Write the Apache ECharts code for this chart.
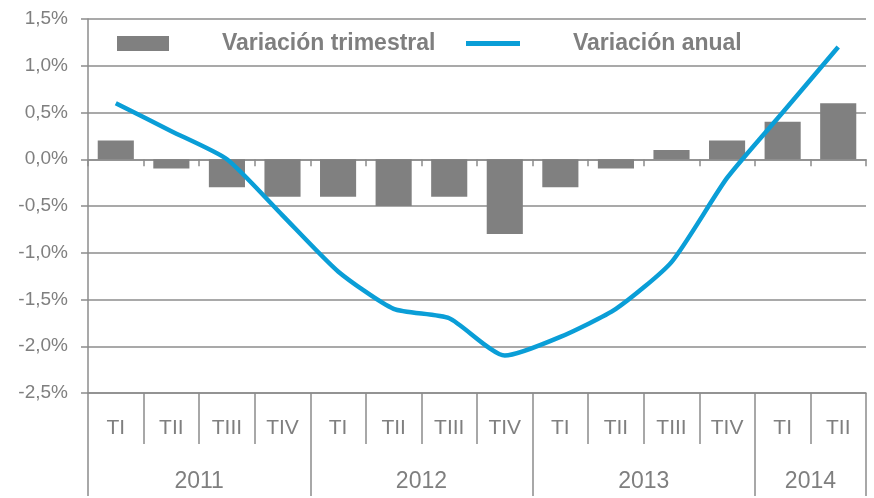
<!DOCTYPE html>
<html>
<head>
<meta charset="utf-8">
<script src="https://cdn.jsdelivr.net/npm/echarts@6/dist/echarts.min.js"></script>
<style>
html,body{margin:0;padding:0;background:#fff;}
#c{width:874px;height:498px;}
</style>
</head>
<body>
<div id="c"></div>
<script>
var quarters = ['TI','TII','TIII','TIV','TI','TII','TIII','TIV','TI','TII','TIII','TIV','TI','TII'];
var years = ['2011','2012','2013','2014'];
var yearStarts = [0, 4, 8, 12, 14];
var yearCenters = [2, 6, 10, 13];
var trimestral = [0.2, -0.1, -0.3, -0.4, -0.4, -0.5, -0.4, -0.8, -0.3, -0.1, 0.1, 0.2, 0.4, 0.6];
var anual = [0.6, 0.3, 0.0, -0.6, -1.2, -1.6, -1.7, -2.1, -1.9, -1.6, -1.1, -0.2, 0.5, 1.2];

var gray = '#8c8c8c';
var txt = '#7f7f7f';
var lineColor = '#0a9ed7';
var font = '"Liberation Sans", Arial, sans-serif';

var chart = echarts.init(document.getElementById('c'));
chart.setOption({
  animation: false,
  backgroundColor: '#fff',
  textStyle: { fontFamily: font },
  legend: [
    {
      left: 117, top: 32, padding: 0,
      itemWidth: 52, itemHeight: 15,
      textStyle: { color: txt, fontSize: 23, fontWeight: 'bold', fontFamily: font, padding: [0, 0, 0, 48] },
      data: [{ name: 'Variación trimestral', icon: 'rect' }]
    },
    {
      left: 466, top: 32, padding: 0,
      itemWidth: 54, itemHeight: 5,
      textStyle: { color: txt, fontSize: 23, fontWeight: 'bold', fontFamily: font, padding: [0, 0, 0, 48] },
      data: [{ name: 'Variación anual', icon: 'rect', itemStyle: { color: lineColor } }]
    }
  ],
  grid: { left: 88, right: 8, top: 19, bottom: 105, containLabel: false },
  xAxis: [
    {
      type: 'category', data: quarters, gridIndex: 0, position: 'bottom',
      axisLine: { onZero: true, lineStyle: { color: gray, width: 1.5 } },
      axisTick: { show: true, length: 7, lineStyle: { color: gray, width: 1.5 } },
      axisLabel: { show: false }
    },
    {
      type: 'category', data: quarters, gridIndex: 0, position: 'bottom',
      axisLine: { onZero: false, lineStyle: { color: gray, width: 1.5 } },
      axisTick: { show: true, length: 51, lineStyle: { color: gray, width: 1.5 } },
      axisLabel: { color: txt, fontSize: 21, margin: 25, fontFamily: font, interval: 0 }
    },
    {
      type: 'value', gridIndex: 0, position: 'bottom', min: 0, max: 14,
      splitLine: { show: false },
      axisLine: { show: false, onZero: false },
      axisTick: { show: true, length: 103, customValues: yearStarts, lineStyle: { color: gray, width: 1.5 } },
      axisLabel: {
        color: txt, fontSize: 23, margin: 77, fontFamily: font,
        customValues: yearCenters,
        formatter: function (v) { return years[yearCenters.indexOf(v)] || ''; }
      }
    }
  ],
  yAxis: {
    type: 'value', min: -2.5, max: 1.5, interval: 0.5,
    axisLine: { show: true, lineStyle: { color: gray, width: 1.5 } },
    axisTick: { show: true, length: 7, lineStyle: { color: gray, width: 1.5 } },
    splitLine: { show: true, lineStyle: { color: gray, width: 1.5 } },
    axisLabel: {
      color: txt, fontSize: 19, margin: 20, fontFamily: font,
      formatter: function (v) { return v.toFixed(1).replace('.', ',') + '%'; }
    }
  },
  series: [
    {
      name: 'Variación trimestral', type: 'bar', xAxisIndex: 0, data: trimestral,
      barCategoryGap: '35%',
      itemStyle: { color: '#808080' }
    },
    {
      name: 'Variación anual', type: 'line', xAxisIndex: 0, data: anual,
      smooth: 0.2, symbol: 'none', z: 5,
      lineStyle: { color: lineColor, width: 4.5 },
      itemStyle: { color: lineColor }
    }
  ]
});
</script>
</body>
</html>
